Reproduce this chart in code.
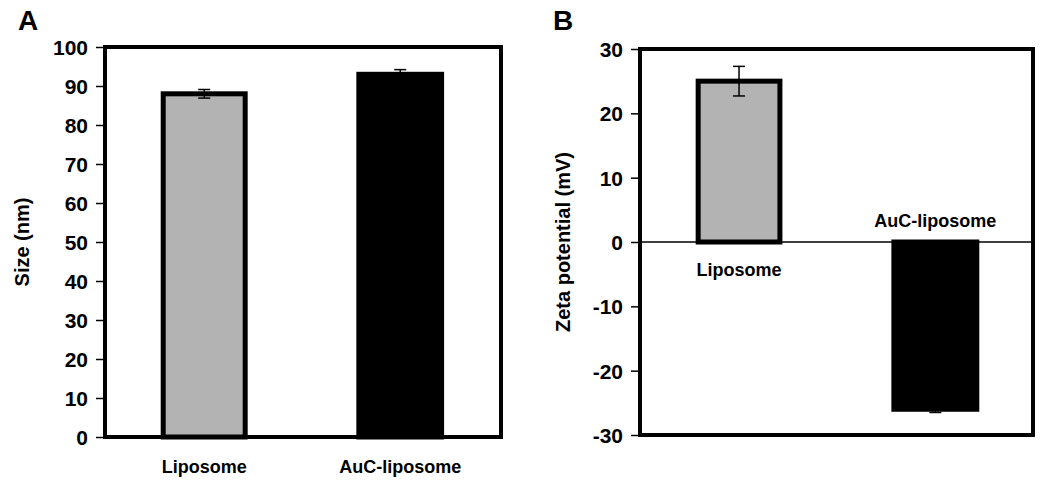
<!DOCTYPE html>
<html>
<head>
<meta charset="utf-8">
<script src="https://cdn.jsdelivr.net/npm/d3@7"></script>
<style>
  body { margin: 0; background: #fff; }
  text { font-family: 'Liberation Sans', Arial, sans-serif; font-weight: bold; fill: #000; }
</style>
</head>
<body>
<div class="chart"></div>
<script>
// data
const categories = ['Liposome', 'AuC-liposome'];
const sizeValues = [88, 93];
const sizeErrors = [1.1, 1.2];
const zetaValues = [25, -26];
const zetaErrors = [2.3, 0.5];
const barColors = ['#b3b3b3', '#000000'];
const sizeTicks = [0, 10, 20, 30, 40, 50, 60, 70, 80, 90, 100];
const zetaTicks = [-30, -20, -10, 0, 10, 20, 30];

const width = 1050;
const height = 487;

const svg = d3
  .select('div.chart')
  .append('svg')
  .attr('width', width)
  .attr('height', height);

const drawPanel = (opts) => {
  const g = svg.append('g');
  const { left, right, top, bottom } = opts;

  const x = d3
    .scaleLinear()
    .domain([0, 1])
    .range([left, right]);
  const y = d3
    .scaleLinear()
    .domain(opts.domain)
    .range([bottom, top]);

  // axis with ticks outside, plain hyphen for negatives like the original
  const axis = g
    .append('g')
    .attr('transform', `translate(${left},0)`)
    .call(
      d3
        .axisLeft(y)
        .tickValues(opts.ticks)
        .tickFormat((d) => String(d))
        .tickSize(9)
        .tickPadding(8)
    );
  axis.select('.domain').remove();
  axis.selectAll('.tick line').attr('stroke', '#000').attr('stroke-width', 1.5);
  axis
    .selectAll('.tick text')
    .style('font-size', '21px')
    .attr('dy', '0.36em');

  // zero line
  if (opts.domain[0] < 0) {
    g.append('line')
      .attr('x1', left)
      .attr('x2', right)
      .attr('y1', y(0))
      .attr('y2', y(0))
      .attr('stroke', '#000')
      .attr('stroke-width', 1.5);
  }

  const bars = opts.values.map((v, i) => ({
    name: categories[i],
    value: v,
    err: opts.errors[i],
    color: barColors[i],
    x0: x(opts.barPos[i][0]),
    x1: x(opts.barPos[i][1]),
  }));

  g.selectAll('rect.bar')
    .data(bars)
    .enter()
    .append('rect')
    .attr('class', 'bar')
    .attr('x', (d) => d.x0)
    .attr('width', (d) => d.x1 - d.x0)
    .attr('y', (d) => Math.min(y(d.value), y(0)))
    .attr('height', (d) => Math.abs(y(d.value) - y(0)))
    .attr('fill', (d) => d.color)
    .attr('stroke', '#000')
    .attr('stroke-width', 5);

  // error bars
  bars.forEach((d) => {
    const cx = (d.x0 + d.x1) / 2;
    const y1 = y(d.value - d.err);
    const y2 = y(d.value + d.err);
    g.append('line')
      .attr('x1', cx)
      .attr('x2', cx)
      .attr('y1', y1)
      .attr('y2', y2)
      .attr('stroke', '#000')
      .attr('stroke-width', 1.5);
    [y1, y2].forEach((yy) => {
      g.append('line')
        .attr('x1', cx - 6)
        .attr('x2', cx + 6)
        .attr('y1', yy)
        .attr('y2', yy)
        .attr('stroke', '#000')
        .attr('stroke-width', 1.5);
    });
  });

  // frame
  g.append('rect')
    .attr('x', left)
    .attr('y', top)
    .attr('width', right - left)
    .attr('height', bottom - top)
    .attr('fill', 'none')
    .attr('stroke', '#000')
    .attr('stroke-width', 4);

  // category labels
  bars.forEach((d, i) => {
    g.append('text')
      .attr('x', (d.x0 + d.x1) / 2)
      .attr('y', opts.labelY[i])
      .attr('text-anchor', 'middle')
      .style('font-size', '18px')
      .text(d.name);
  });

  // y title
  g.append('text')
    .attr('transform', `translate(${opts.titleX},${(top + bottom) / 2}) rotate(-90)`)
    .attr('text-anchor', 'middle')
    .style('font-size', '20px')
    .text(opts.title);

  // panel letter
  g.append('text')
    .attr('x', opts.letterX)
    .attr('y', 30)
    .style('font-size', '28px')
    .text(opts.letter);
};

drawPanel({
  left: 105,
  right: 501,
  top: 47,
  bottom: 437,
  domain: [0, 100],
  ticks: sizeTicks,
  values: sizeValues,
  errors: sizeErrors,
  barPos: [[0.147, 0.354], [0.641, 0.85]],
  labelY: [473, 473],
  title: 'Size (nm)',
  titleX: 29,
  letter: 'A',
  letterX: 18,
});

drawPanel({
  left: 640,
  right: 1033,
  top: 49,
  bottom: 435,
  domain: [-30, 30],
  ticks: zetaTicks,
  values: zetaValues,
  errors: zetaErrors,
  barPos: [[0.148, 0.356], [0.646, 0.857]],
  labelY: [276, 227],
  title: 'Zeta potential (mV)',
  titleX: 570,
  letter: 'B',
  letterX: 553,
});
</script>
</body>
</html>
